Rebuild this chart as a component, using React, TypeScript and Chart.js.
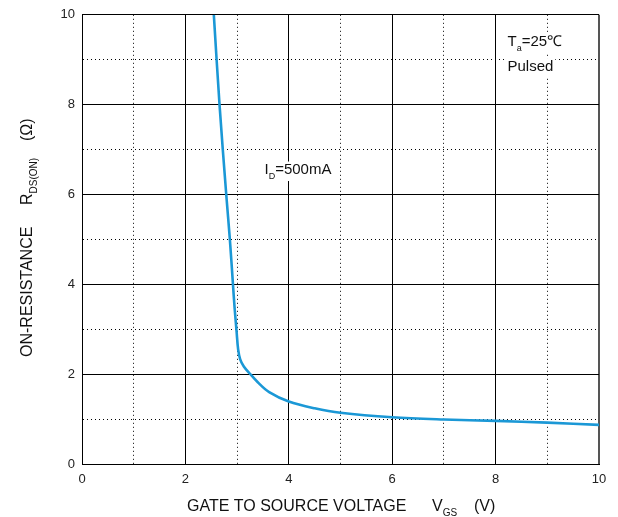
import React, { useEffect, useRef } from "react";
import { Chart, registerables } from "chart.js";

Chart.register(...registerables);

// Gate-to-source voltage (V)
const vgs = [2.55, 2.66, 2.79, 2.86, 2.92, 2.95, 2.99, 3.02, 3.06, 3.13, 3.24, 3.4, 3.62, 4.0, 4.5, 5, 6, 7, 8, 9, 10];
// On-resistance (ohm)
const rds = [10, 8, 6, 5, 4, 3.5, 2.95, 2.55, 2.33, 2.17, 2.02, 1.82, 1.6, 1.39, 1.24, 1.14, 1.04, 0.99, 0.96, 0.92, 0.87];

const xMin = 0;
const xMax = 10;
const yMin = 0;
const yMax = 10;
const labeledTickStep = 2;

const FONT = 'Arial, "Liberation Sans", sans-serif';

type Part = { t: string; sub?: boolean };

function drawRich(ctx: CanvasRenderingContext2D, parts: Part[], x: number, y: number, size: number) {
  let cx = x;
  for (const p of parts) {
    const s = p.sub ? Math.round(size * 0.62) : size;
    ctx.font = `${s}px ${FONT}`;
    ctx.fillText(p.t, cx, p.sub ? y + size * 0.32 : y);
    cx += ctx.measureText(p.t).width;
  }
  return cx - x;
}

function measureRich(ctx: CanvasRenderingContext2D, parts: Part[], size: number) {
  let w = 0;
  for (const p of parts) {
    const s = p.sub ? Math.round(size * 0.62) : size;
    ctx.font = `${s}px ${FONT}`;
    w += ctx.measureText(p.t).width;
  }
  return w;
}

const textPlugin = {
  id: "texts",
  afterDraw(chart: any) {
    const { ctx, scales } = chart;
    const x = scales.x;
    const y = scales.y;
    ctx.save();
    ctx.fillStyle = "#111";
    ctx.textBaseline = "alphabetic";
    ctx.textAlign = "left";

    // Annotations with white boxes
    const annos: { parts: Part[]; vx: number; vy: number }[] = [
      { parts: [{ t: "I" }, { t: "D", sub: true }, { t: "=500mA" }], vx: 3.53, vy: 6.45 },
      { parts: [{ t: "T" }, { t: "a", sub: true }, { t: "=25℃" }], vx: 8.23, vy: 9.3 },
      { parts: [{ t: "Pulsed" }], vx: 8.23, vy: 8.75 },
    ];
    const size = 15;
    for (const a of annos) {
      const px = x.getPixelForValue(a.vx);
      const py = y.getPixelForValue(a.vy);
      const w = measureRich(ctx, a.parts, size);
      ctx.fillStyle = "#fff";
      ctx.fillRect(px - 2, py - size * 0.85, w + 4, size * 1.3);
      ctx.fillStyle = "#111";
      drawRich(ctx, a.parts, px, py, size);
    }

    // X axis title
    const xt = 16;
    const by = 511;
    drawRich(ctx, [{ t: "GATE TO SOURCE VOLTAGE" }], 187, by, xt);
    drawRich(ctx, [{ t: "V" }, { t: "GS", sub: true }], 432, by, xt);
    drawRich(ctx, [{ t: "(V)" }], 474, by, xt);

    // Y axis title (rotated)
    ctx.save();
    ctx.translate(32, 357);
    ctx.rotate(-Math.PI / 2);
    drawRich(ctx, [{ t: "ON-RESISTANCE" }], 0, 0, xt);
    drawRich(ctx, [{ t: "R" }, { t: "DS(ON)", sub: true }], 152, 0, xt);
    drawRich(ctx, [{ t: "(Ω)" }], 216, 0, xt);
    ctx.restore();

    ctx.restore();
  },
};

export default function App() {
  const ref = useRef<HTMLCanvasElement | null>(null);
  useEffect(() => {
    if (!ref.current) return;
    const dash = (c: any) => (c.tick && Math.round(c.tick.value) % 2 !== 0 ? [1, 3] : []);
    const xGridWidth = (c: any) => (c.tick && c.tick.value === xMax ? 2 : 1);
    const xGridColor = (c: any) => (c.tick && c.tick.value === xMax ? "#555" : "#000");
    const chart = new Chart(ref.current, {
      type: "line",
      data: {
        datasets: [
          {
            data: vgs.map((v, i) => ({ x: v, y: rds[i] })),
            borderColor: "#1b98d6",
            borderWidth: 2.6,
            pointRadius: 0,
            tension: 0.35,
            fill: false,
          },
        ],
      },
      options: {
        animation: false,
        responsive: false,
        maintainAspectRatio: false,
        layout: { padding: { top: 14, right: 19, left: 0, bottom: 0 } },
        plugins: { legend: { display: false }, tooltip: { enabled: false } },
        scales: {
          x: {
            type: "linear",
            min: xMin,
            max: xMax,
            afterFit: (s: any) => {
              s.height = 53;
            },
            ticks: {
              stepSize: 1,
              autoSkip: false,
              maxRotation: 0,
              padding: 8,
              color: "#222",
              font: { family: FONT, size: 13 },
              callback: (v: any) => (Number(v) % labeledTickStep === 0 ? String(v) : ""),
            },
            grid: { color: xGridColor, lineWidth: xGridWidth, drawTicks: false },
            border: { display: true, color: "#000", width: 1, dash },
          },
          y: {
            type: "linear",
            min: yMin,
            max: yMax,
            afterFit: (s: any) => {
              s.width = 82;
            },
            ticks: {
              stepSize: 1,
              autoSkip: false,
              padding: 7,
              color: "#222",
              font: { family: FONT, size: 13 },
              callback: (v: any) => (Number(v) % labeledTickStep === 0 ? String(v) : ""),
            },
            grid: { color: "#000", lineWidth: 1, drawTicks: false },
            border: { display: true, color: "#000", width: 1, dash },
          },
        },
      },
      plugins: [textPlugin],
    } as any);
    return () => chart.destroy();
  }, []);
  return (
    <div style={{ position: "fixed", left: 0, top: 0, width: 618, height: 517, background: "#fff" }}>
      <canvas ref={ref} width={618} height={517} style={{ width: 618, height: 517, display: "block" }} />
    </div>
  );
}
